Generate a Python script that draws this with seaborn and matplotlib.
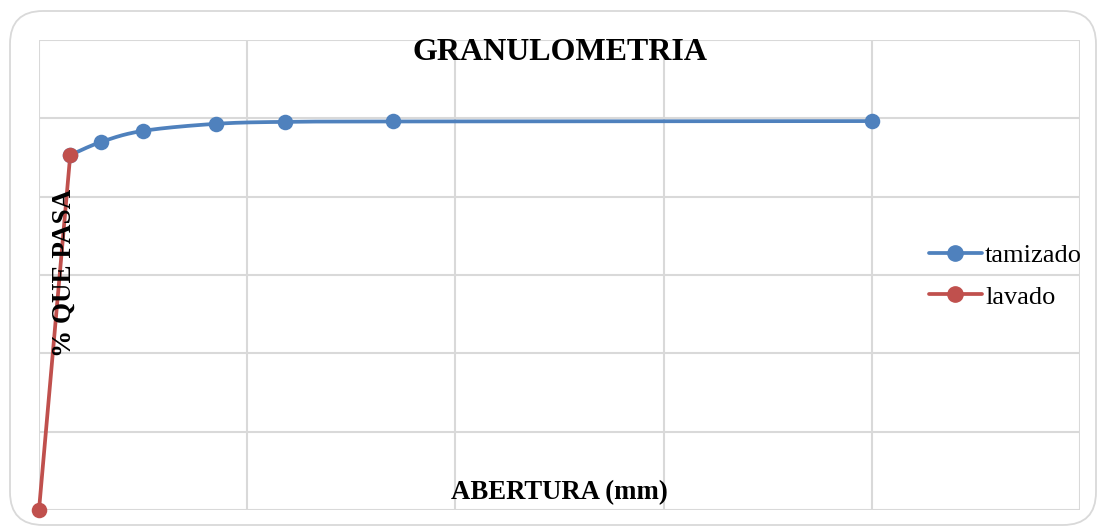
import numpy as np
import pandas as pd
import matplotlib
matplotlib.use("Agg")
import matplotlib.pyplot as plt
from matplotlib.patches import FancyBboxPatch
from matplotlib.lines import Line2D
import seaborn as sns

# Data
tam_x = [0.15, 0.30, 0.50, 0.85, 1.18, 1.70, 4.00]
tam_y = [90.6, 94.0, 96.8, 98.6, 99.1, 99.2, 99.3]
lav_x = [0.0, 0.15]
lav_y = [0.0, 90.6]

title = "GRANULOMETRIA"
xlabel = "ABERTURA (mm)"
ylabel = "% QUE PASA"
names = ["tamizado", "lavado"]

BLUE = "#4F81BD"
RED = "#C0504D"
GRID = "#D9D9D9"

sns.set_theme(style="white")
plt.rcParams['font.family'] = ['Liberation Serif', 'DejaVu Serif']
plt.rcParams['text.color'] = 'black'


def catmull_rom(x, y, n=30):
    x = np.asarray(x, float); y = np.asarray(y, float)
    px = np.concatenate([[x[0]], x, [x[-1]]])
    py = np.concatenate([[y[0]], y, [y[-1]]])
    ox, oy = [], []
    for i in range(1, len(px) - 2):
        t = np.linspace(0, 1, n, endpoint=False)
        for arr, o in ((px, ox), (py, oy)):
            p0, p1, p2, p3 = arr[i - 1], arr[i], arr[i + 1], arr[i + 2]
            o.extend(0.5 * ((2 * p1) + (-p0 + p2) * t
                            + (2 * p0 - 5 * p1 + 4 * p2 - p3) * t ** 2
                            + (-p0 + 3 * p1 - 3 * p2 + p3) * t ** 3))
    ox.append(x[-1]); oy.append(y[-1])
    return np.array(ox), np.array(oy)


fig = plt.figure(figsize=(10.99, 5.31), dpi=100)
fig.patch.set_facecolor("white")
frame = FancyBboxPatch((10 / 1099, 6 / 531), 1086 / 1099, 514 / 531,
                       boxstyle="round,pad=0,rounding_size=0.03",
                       transform=fig.transFigure, facecolor="none",
                       edgecolor="#D9D9D9", linewidth=1.3, mutation_aspect=1099 / 531,
                       zorder=-1)
fig.patches.append(frame)

ax = fig.add_axes([39 / 1099, 1 - 510 / 531, (1080 - 39) / 1099, (510 - 40) / 531])
ax.set_facecolor("none")
ax.set_xlim(0, 5)
ax.set_ylim(0, 120)
ax.set_xticks(np.arange(0, 6, 1))
ax.set_yticks(np.arange(0, 121, 20))
ax.grid(True, color=GRID, linewidth=1.5)
ax.tick_params(labelbottom=False, labelleft=False, length=0)
for s in ax.spines.values():
    s.set_visible(False)

LW = 2.7
MS = 125
sx, sy = catmull_rom(tam_x, tam_y)
smooth = pd.DataFrame({"x": sx, "y": sy})
sns.lineplot(data=smooth, x="x", y="y", ax=ax, color=BLUE, linewidth=LW,
             sort=False, estimator=None)
sns.scatterplot(x=tam_x, y=tam_y, ax=ax, color=BLUE, s=MS, edgecolor=BLUE,
                linewidth=0, zorder=4)

lav = pd.DataFrame({"x": lav_x, "y": lav_y})
sns.lineplot(data=lav, x="x", y="y", ax=ax, color=RED, linewidth=LW,
             sort=False, estimator=None)
sns.scatterplot(data=lav, x="x", y="y", ax=ax, color=RED, s=MS,
                edgecolor=RED, linewidth=0, zorder=5)
for c in ax.collections:
    c.set_clip_on(False)
for l in ax.lines:
    l.set_clip_on(False)

ax.set_xlabel("")
ax.set_ylabel("")
ax.text(0.5, 0.973, title, transform=ax.transAxes, ha="center", va="center",
        fontsize=23, fontweight="bold", color="black", zorder=6)
ax.text(0.5, 0.036, xlabel, transform=ax.transAxes, ha="center", va="center",
        fontsize=19.3, fontweight="bold", color="black", zorder=6)
ax.text(0.024, 0.505, ylabel, transform=ax.transAxes, ha="center", va="center",
        rotation=90, fontsize=19.5, fontweight="bold", color="black", zorder=6)

handles = [Line2D([], [], color=BLUE, lw=LW, marker="o", markersize=11),
           Line2D([], [], color=RED, lw=LW, marker="o", markersize=11)]
leg = fig.legend(handles, names, loc="center left",
                 bbox_to_anchor=(929 / 1099, 1 - 276 / 531), frameon=False,
                 fontsize=19, handlelength=2.0, handletextpad=0.12,
                 labelspacing=0.7, borderaxespad=0, borderpad=0)
for t in leg.get_texts():
    t.set_color("black")

fig.savefig("out.png", dpi=100, facecolor="white")
